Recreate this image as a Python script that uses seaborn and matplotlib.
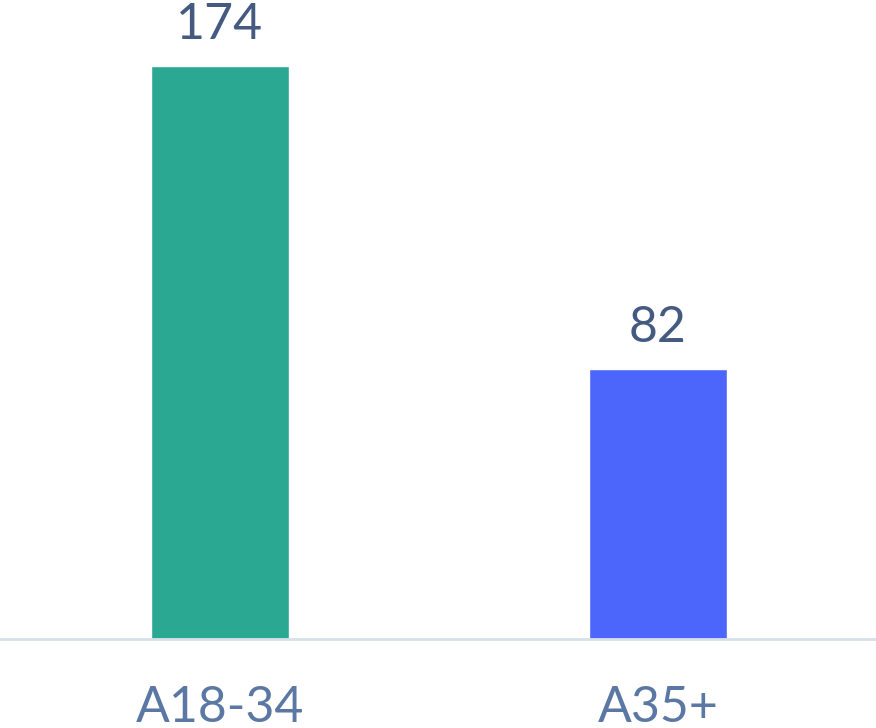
import matplotlib
matplotlib.use("Agg")
import matplotlib.pyplot as plt
import seaborn as sns
import pandas as pd

categories = ["A18-34", "A35+"]
values = [174, 82]
colors = ["#2aa891", "#4c65fb"]

sns.set_theme(style="white")
plt.rcParams['font.family'] = ['Lato', 'DejaVu Sans']

df = pd.DataFrame({"cat": categories, "val": values})

fig = plt.figure(figsize=(8.76, 7.28), dpi=100)
ax = fig.add_axes([0, (728 - 639) / 728, 1, 639 / 728])
sns.barplot(data=df, x="cat", y="val", hue="cat", palette=colors, width=0.315,
            saturation=1, legend=False, ax=ax)
ax.set_xlim(-0.502, 1.498)
ax.set_ylim(0, 194)
for s in ["top", "right", "left"]:
    ax.spines[s].set_visible(False)
ax.spines["bottom"].set_color("#d5e0ea")
ax.spines["bottom"].set_linewidth(2)
ax.set_yticks([])
ax.set_xlabel("")
ax.set_ylabel("")
ax.tick_params(axis="x", length=0, pad=33, labelsize=36, labelcolor="#5b77a3")
for c in ax.containers:
    ax.bar_label(c, padding=13, fontsize=36, color="#445a80")

fig.savefig("out.png", dpi=100)
